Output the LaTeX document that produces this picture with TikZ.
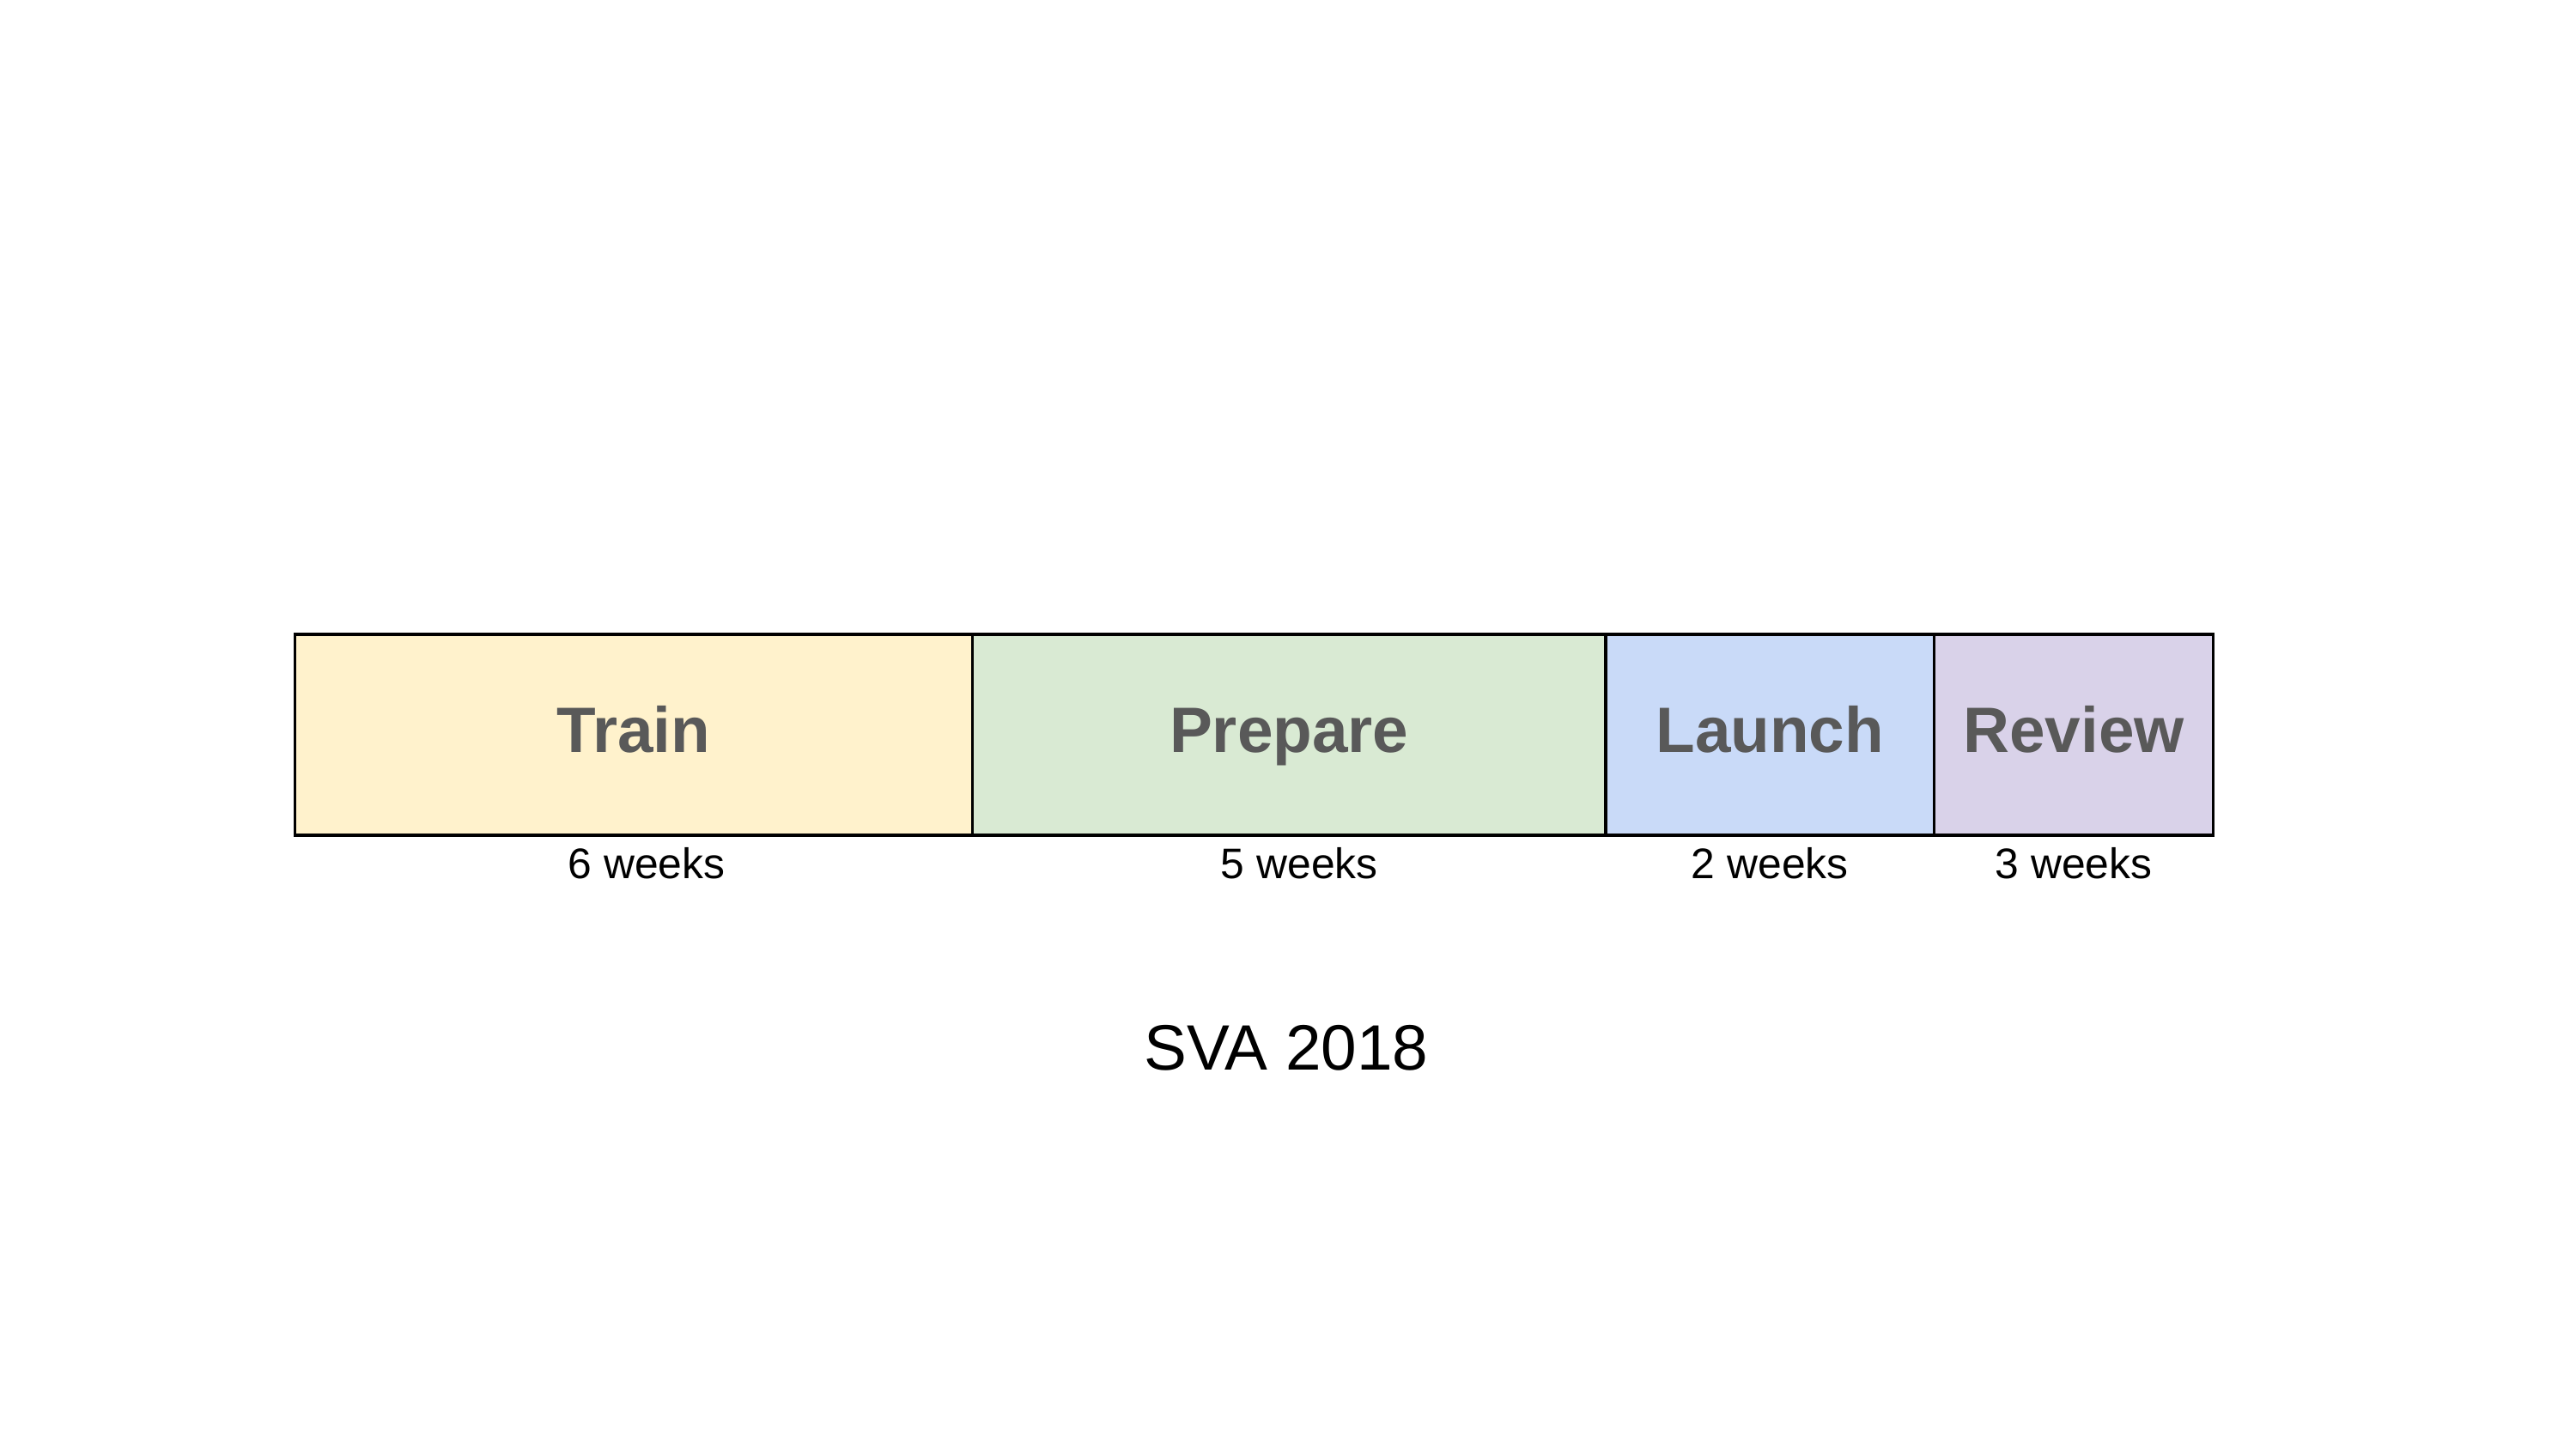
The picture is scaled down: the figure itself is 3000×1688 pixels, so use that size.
\documentclass[tikz,border=0pt]{standalone}
\usepackage{fontspec}
\setmainfont{Liberation Sans}
\usetikzlibrary{positioning,calc}
\definecolor{trainyellow}{HTML}{FFF2CC}
\definecolor{preparegreen}{HTML}{D9EAD3}
\definecolor{launchblue}{HTML}{C9DAF8}
\definecolor{reviewpurple}{HTML}{D9D2E9}
\definecolor{phasegray}{HTML}{595959}
\def\px{0.08467mm}
\tikzset{
  phase/.style={draw=black, line width=0.75pt, minimum height=234*\px, inner sep=0pt,
    outer sep=0pt, font=\fontsize{18}{21}\selectfont\bfseries, text=phasegray,
    text height=12.9pt, text depth=2.8pt},
  weeks/.style={font=\fontsize{12}{14}\selectfont, text=black, inner sep=0pt, anchor=base},
  title/.style={font=\fontsize{18}{21}\selectfont, text=black, inner sep=0pt, anchor=base},
}
\begin{document}
\begin{tikzpicture}[x=\px,y=-\px]
  \useasboundingbox[fill=white] (0,0) rectangle (3000,1688);
  % the four phases, side by side
  \node[phase, fill=trainyellow, minimum width=789*\px, anchor=north west] (train) at (343.5,739) {Train};
  \node[phase, fill=preparegreen, minimum width=737.5*\px, right=0pt of train] (prepare) {Prepare};
  \node[phase, fill=launchblue, minimum width=382.5*\px, right=0pt of prepare] (launch) {Launch};
  \node[phase, fill=reviewpurple, minimum width=325*\px, right=0pt of launch] (review) {Review};
  % durations
  \node[weeks] (trainwk) at ([xshift=15*\px, yshift=-50*\px]train.south) {6 weeks};
  \node[weeks] (preparewk) at ([xshift=12*\px, yshift=-50*\px]prepare.south) {5 weeks};
  \node[weeks] (launchwk) at ([yshift=-50*\px]launch.south) {2 weeks};
  \node[weeks] (reviewwk) at ([yshift=-50*\px]review.south) {3 weeks};
  \node[title] (sva) at (1498,1246) {SVA 2018};
\end{tikzpicture}
\end{document}
